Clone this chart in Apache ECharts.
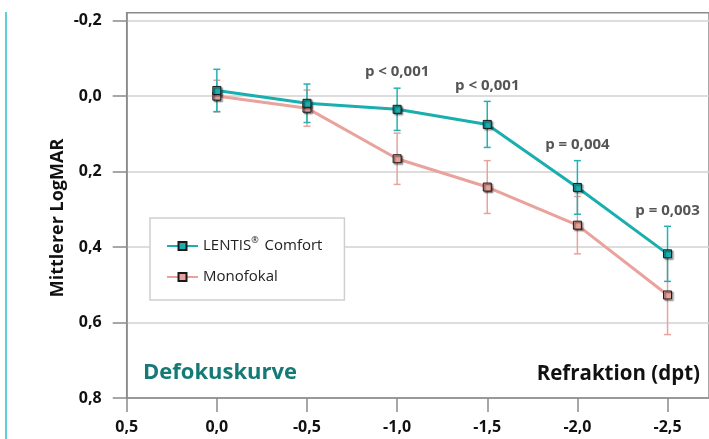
<!DOCTYPE html>
<html>
<head>
<meta charset="utf-8">
<script src="https://cdn.jsdelivr.net/npm/echarts@6.0.0/dist/echarts.min.js"></script>
<style>
  html, body { margin: 0; padding: 0; background: #fff; }
  #main { width: 709px; height: 439px; }
</style>
</head>
<body>
<div id="main"></div>
<script>
const refraction = [0, -0.5, -1.0, -1.5, -2.0, -2.5];
const lentisMean = [-0.015, 0.019, 0.035, 0.075, 0.242, 0.418];
const lentisSd = [0.056, 0.051, 0.056, 0.061, 0.071, 0.073];
const monoMean = [0.0, 0.032, 0.166, 0.241, 0.342, 0.527];
const monoSd = [0.042, 0.048, 0.068, 0.07, 0.076, 0.105];
const pValues = ['', '', 'p < 0,001', 'p < 0,001', 'p = 0,004', 'p = 0,003'];
const xTicks = [0.5, 0, -0.5, -1.0, -1.5, -2.0, -2.5];
const yTicks = [-0.2, 0, 0.2, 0.4, 0.6, 0.8];

const FONT = '"Open Sans", "Noto Sans", sans-serif';
const TEAL = '#1aaeae';
const PINK = '#e9a29c';

const chart = echarts.init(document.getElementById('main'));

const fmt = v => v.toFixed(1).replace('.', ',');

function errorBars(color, labels) {
  return function (params, api) {
    const top = api.coord([api.value(0), api.value(1)]);
    const bot = api.coord([api.value(0), api.value(2)]);
    const w = 3.5;
    const style = { stroke: color, lineWidth: 1.5 };
    const children = [
      { type: 'line', shape: { x1: top[0], y1: top[1], x2: bot[0], y2: bot[1] }, style: style },
      { type: 'line', shape: { x1: top[0] - w, y1: top[1], x2: top[0] + w, y2: top[1] }, style: style },
      { type: 'line', shape: { x1: bot[0] - w, y1: bot[1], x2: bot[0] + w, y2: bot[1] }, style: style }
    ];
    if (labels && labels[params.dataIndex]) {
      children.push({
        type: 'text',
        x: top[0], y: top[1] - 16,
        style: {
          text: labels[params.dataIndex],
          fill: '#555',
          font: 'bold 15px ' + FONT,
          textAlign: 'center',
          textVerticalAlign: 'middle'
        }
      });
    }
    return { type: 'group', children: children };
  };
}

const markerStyle = fill => ({
  color: fill,
  borderColor: '#1a1a1a',
  borderWidth: 1,
  shadowColor: 'rgba(0,0,0,0.6)',
  shadowBlur: 1.5,
  shadowOffsetX: 1.5,
  shadowOffsetY: 1.5
});

chart.setOption({
  animation: false,
  grid: {
    left: 126.7,
    right: -2,
    top: 12.7,
    bottom: 41,
    show: true,
    borderColor: '#8a8a8a',
    borderWidth: 1.5
  },
  xAxis: {
    type: 'value',
    inverse: true,
    min: -2.73,
    max: 0.5,
    axisLine: { onZero: false, lineStyle: { color: '#8a8a8a', width: 1.5 } },
    axisTick: { show: true, length: 14, customValues: xTicks, lineStyle: { color: '#8a8a8a', width: 1.5 } },
    axisLabel: {
      customValues: xTicks,
      formatter: fmt,
      margin: 21,
      fontFamily: FONT,
      fontWeight: 'bold',
      fontSize: 16,
      color: '#111'
    },
    splitLine: { show: false }
  },
  yAxis: {
    type: 'value',
    inverse: true,
    min: -0.221,
    max: 0.8,
    axisLine: { show: true, onZero: false, lineStyle: { color: '#8a8a8a', width: 1.5 } },
    axisTick: { show: true, length: 14, customValues: yTicks, lineStyle: { color: '#8a8a8a', width: 1.5 } },
    axisLabel: {
      customValues: yTicks,
      formatter: fmt,
      margin: 25,
      fontFamily: FONT,
      fontWeight: 'bold',
      fontSize: 16,
      color: '#111'
    },
    splitLine: { show: true, lineStyle: { color: '#d2d2d2', width: 1.5 } }
  },
  legend: {
    orient: 'vertical',
    left: 150,
    top: 218,
    padding: [18, 22, 13, 16],
    backgroundColor: '#fff',
    borderColor: '#cfcfcf',
    borderWidth: 1.5,
    itemWidth: 31,
    itemHeight: 10,
    itemGap: 11,
    data: ['LENTIS® Comfort', 'Monofokal'],
    formatter: name => name.replace('®', '{sup|®}'),
    textStyle: {
      fontFamily: FONT,
      fontSize: 15,
      color: '#222',
      lineHeight: 20,
      rich: {
        sup: { fontFamily: FONT, fontSize: 9, verticalAlign: 'top', lineHeight: 20, padding: [0, 2, 6, 0] }
      }
    }
  },
  graphic: [
    { type: 'line', shape: { x1: 6, y1: 12, x2: 6, y2: 439 }, style: { stroke: '#2dbcc6', lineWidth: 1.5 } },
    {
      type: 'text', x: 58, y: 218, rotation: Math.PI / 2,
      style: { text: 'Mittlerer LogMAR', font: 'bold 18px ' + FONT, fill: '#111', textAlign: 'center', textVerticalAlign: 'middle' }
    },
    {
      type: 'text', left: 143, top: 362,
      style: { text: 'Defokuskurve', font: 'bold 22px ' + FONT, fill: '#137a76' }
    },
    {
      type: 'text', right: 9, top: 364,
      style: { text: 'Refraktion (dpt)', font: 'bold 20.5px ' + FONT, fill: '#111' }
    }
  ],
  series: [
    {
      name: 'Monofokal-SD',
      type: 'custom',
      renderItem: errorBars(PINK, null),
      data: refraction.map((x, i) => [x, monoMean[i] - monoSd[i], monoMean[i] + monoSd[i]]),
      z: 2
    },
    {
      name: 'LENTIS-SD',
      type: 'custom',
      renderItem: errorBars('#22b2b4', pValues),
      data: refraction.map((x, i) => [x, lentisMean[i] - lentisSd[i], lentisMean[i] + lentisSd[i]]),
      z: 3
    },
    {
      name: 'Monofokal',
      type: 'line',
      data: refraction.map((x, i) => [x, monoMean[i]]),
      symbol: 'rect',
      symbolSize: 8,
      lineStyle: { color: PINK, width: 3 },
      itemStyle: markerStyle(PINK),
      z: 4
    },
    {
      name: 'LENTIS® Comfort',
      type: 'line',
      data: refraction.map((x, i) => [x, lentisMean[i]]),
      symbol: 'rect',
      symbolSize: 8,
      lineStyle: { color: TEAL, width: 3 },
      itemStyle: markerStyle(TEAL),
      z: 5
    }
  ]
});

window.addEventListener('resize', () => chart.resize());
</script>
</body>
</html>
